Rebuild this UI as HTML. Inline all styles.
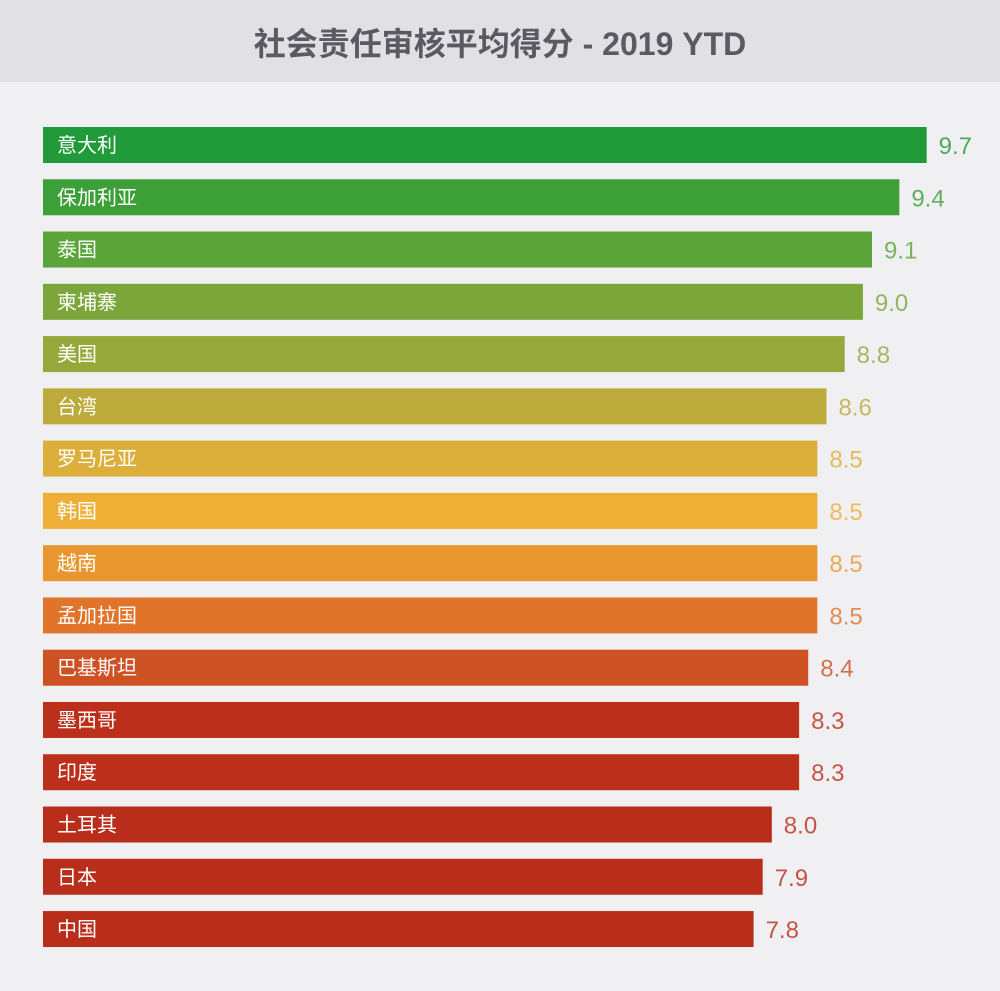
<!DOCTYPE html>
<html><head><meta charset="utf-8"><style>
body{margin:0;width:1000px;height:991px;background:#f0f0f3;font-family:"Liberation Sans","Noto Sans CJK SC",sans-serif;overflow:hidden;position:relative}
#title{position:absolute;left:0;top:0;width:1000px;height:82px;background:#e1e1e5;text-align:center;line-height:88px;font-size:32px;font-weight:bold;color:#5a5a60}
</style></head><body>
<div id="title">社会责任审核平均得分 - 2019 YTD</div>
<svg id="chart" width="1000" height="991" style="position:absolute;left:0;top:0"></svg>
<script>
const categories=["意大利","保加利亚","泰国","柬埔寨","美国","台湾","罗马尼亚","韩国","越南","孟加拉国","巴基斯坦","墨西哥","印度","土耳其","日本","中国"];
const values=[9.7,9.4,9.1,9.0,8.8,8.6,8.5,8.5,8.5,8.5,8.4,8.3,8.3,8.0,7.9,7.8];
const valueLabels=["9.7","9.4","9.1","9.0","8.8","8.6","8.5","8.5","8.5","8.5","8.4","8.3","8.3","8.0","7.9","7.8"];
const colors=["#219b3a","#3d9f38","#5aa43a","#7ca63a","#96a83a","#bcab3a","#dcae3a","#efae36","#ea962f","#df742a","#cd5122","#bb2f1b","#bb2f1b","#b92e1a","#b92e1a","#b92e1a"];
const x0=43,pxPerUnit=91.1,y0=127,pitch=52.27,barH=36;
const xScale=v=>x0+v*pxPerUnit;
const yScale=i=>y0+i*pitch;
const svg=document.getElementById('chart');
const NS='http://www.w3.org/2000/svg';
values.forEach((v,i)=>{
  const r=document.createElementNS(NS,'rect');
  
  
  r.setAttribute('x',x0);r.setAttribute('y',yScale(i));
  r.setAttribute('width',xScale(v)-x0);r.setAttribute('height',barH);
  r.setAttribute('fill',colors[i]);svg.appendChild(r);
  const t=document.createElementNS(NS,'text');
  
  
  t.setAttribute('x',57);t.setAttribute('y',yScale(i)+barH/2+7);
  t.setAttribute('fill','#ffffff');t.setAttribute('font-size','20');
  t.textContent=categories[i];svg.appendChild(t);
  const l=document.createElementNS(NS,'text');
  
  
  l.setAttribute('x',xScale(v)+12);l.setAttribute('y',yScale(i)+barH/2+9);
  l.setAttribute('fill',colors[i]);l.setAttribute('opacity','0.8');l.setAttribute('font-size','24');
  l.textContent=valueLabels[i];svg.appendChild(l);
});
</script>
</body></html>
